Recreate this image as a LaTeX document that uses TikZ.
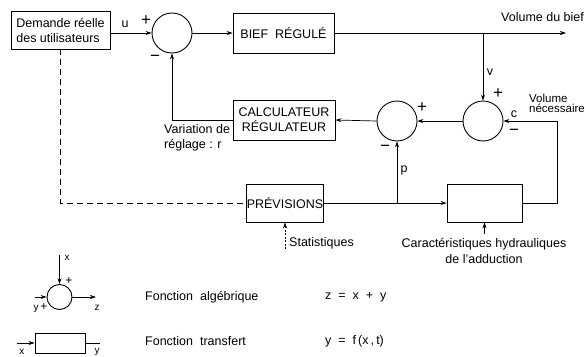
\documentclass[tikz,border=0pt]{standalone}
\usepackage{fontspec}
\setmainfont{Liberation Sans}
\usetikzlibrary{arrows.meta}
\begin{document}
\begin{tikzpicture}[x=1pt,y=-1pt, font=\fontsize{12.5}{15}\selectfont,
  blk/.style={draw, line width=0.9pt, inner sep=0pt, align=center},
  sum/.style={draw, circle, line width=0.9pt, minimum size=40pt, inner sep=0pt},
  arr/.style={-{Stealth[length=6pt,width=4pt]}, line width=0.7pt},
  ln/.style={line width=0.7pt},
  sgn/.style={font=\fontsize{17}{17}\selectfont, inner sep=0pt},
  lbl/.style={inner sep=0pt},
  small/.style={font=\fontsize{10}{10}\selectfont, inner sep=0pt},
  smallsgn/.style={font=\fontsize{12}{12}\selectfont, inner sep=0pt}]
\useasboundingbox (0,0) rectangle (586,356);

% main blocks
\node[blk, minimum width=99pt, minimum height=38pt, align=left] (dem) at (60.5,30) {Demande réelle\\des utilisateurs};
\node[sum] (s1) at (172,33) {};
\node[blk, minimum width=101pt, minimum height=40pt] (bief) at (283.5,33) {BIEF\ \ RÉGULÉ};
\node[sum] (s3) at (483,121) {};
\node[sum] (s2) at (397,121) {};
\node[blk, minimum width=102pt, minimum height=40pt] (calc) at (284,120) {CALCULATEUR\\RÉGULATEUR};
\node[blk, minimum width=76pt, minimum height=38pt] (prev) at (285,203) {PRÉVISIONS};
\node[blk, minimum width=75pt, minimum height=38pt] (add) at (484.5,203) {};

\coordinate (out) at (566,33);
\coordinate (br) at (483,33);
\coordinate (rt) at (557,203);
\coordinate (pb) at (397,203);
\coordinate (st) at (285,249);
\coordinate (ca) at (484.5,234);

% connectors
\draw[arr] (dem.east |- s1.west) -- (s1.west);
\draw[arr] (s1.east) -- (bief.west);
\draw[ln] (bief.east) -- (br);
\draw[arr] (br) -- (out);
\draw[arr] (br) -- (s3.north);
\draw[arr] (add.east) -- (rt) |- (s3.east);
\draw[arr] (s3.west) -- (s2.east);
\draw[arr] (s2.west) -- (calc.east);
\draw[arr] (calc.west) -| (s1.south);
\draw[arr] (prev.east) -- (add.west);
\draw[arr] (pb) -- (s2.south);
\draw[ln, dashed, dash pattern=on 6pt off 4pt] (dem.south) |- (prev.west);
\draw[arr, dash pattern=on 2pt off 1.5pt] (st) -- (prev.south);
\draw[arr] (ca) -- (add.south);

% labels
\node[lbl] at (125,24) {u};
\node[sgn] at (146,21) {+};
\node[sgn] at (155,58) {−};
\node[lbl, anchor=west] at (501,17) {Volume du bief};
\node[lbl] at (490,72) {v};
\node[sgn] at (498,94) {+};
\node[lbl] at (514,114) {c};
\node[sgn] at (514,132) {−};
\node[lbl, anchor=west, align=left, font=\fontsize{11.5}{10}\selectfont] at (529,103) {Volume\\nécessaire};
\node[sgn] at (422,108) {+};
\node[sgn] at (385,148) {−};
\node[lbl] at (404,170) {p};
\node[lbl, anchor=west, align=left] at (164,138) {Variation de\\réglage : r};
\node[lbl, anchor=west] at (289,243) {Statistiques};
\node[lbl, align=center, font=\fontsize{12.5}{16}\selectfont] at (484,251) {Caractéristiques hydrauliques\\de l'adduction};

% legend
\node[sum, minimum size=25pt] (ls) at (59.5,297) {};
\coordinate (lx) at (59.5,255);
\coordinate (ly) at (35,297);
\coordinate (lz) at (96,297);
\draw[arr] (lx) -- (ls.north);
\draw[arr] (ly) -- (ls.west);
\draw[arr] (ls.east) -- (lz);
\node[small] at (67,258) {x};
\node[smallsgn] at (69,281) {+};
\node[small] at (36,309) {y};
\node[smallsgn] at (44,307) {+};
\node[small] at (97,308) {z};

\node[blk, minimum width=50pt, minimum height=20pt] (lb) at (60,343) {};
\coordinate (lbi) at (17,343);
\coordinate (lbo) at (100,343);
\draw[arr] (lbi) -- (lb.west);
\draw[ln] (lb.east) -- (lbo);
\node[small] at (22,352) {x};
\node[small] at (97,352) {y};

\node[lbl, anchor=west] at (145,297) {Fonction\ \ algébrique};
\node[lbl, anchor=west] at (325,297) {z\ \ =\ \ x\ \ +\ \ y};
\node[lbl, anchor=west] at (145,341) {Fonction\ \ transfert};
\node[lbl, anchor=west] at (325,341) {y\ \ =\ \ f\,(x\,,\,t)};
\end{tikzpicture}
\end{document}
